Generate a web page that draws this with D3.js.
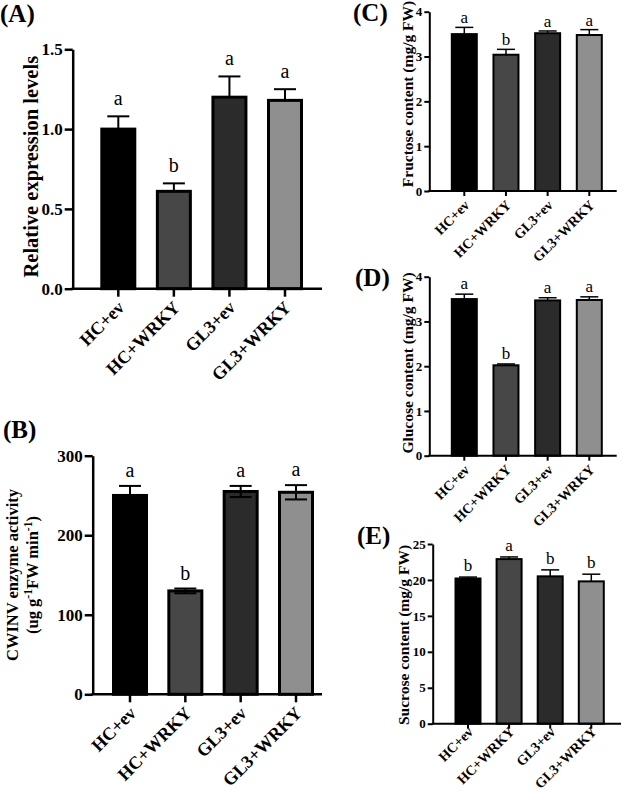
<!DOCTYPE html>
<html>
<head>
<meta charset="utf-8">
<script src="https://cdn.jsdelivr.net/npm/d3@7"></script>
<style>
  body { margin: 0; background: #fff; }
  svg { display: block; }
  text { font-family: "Liberation Serif", "Times New Roman", serif; font-weight: bold; fill: #000; }
</style>
</head>
<body>
<div id="chart"></div>
<script>
let groups = ["HC+ev", "HC+WRKY", "GL3+ev", "GL3+WRKY"]
let barFills = ["#000000", "#474747", "#2b2b2b", "#8f8f8f"]

// (A) relative expression
let exprMean = [1.0, 0.61, 1.20, 1.18]
let exprErr = [0.08, 0.05, 0.13, 0.07]
let exprLetters = ["a", "b", "a", "a"]
let exprTicks = [0, 0.5, 1.0, 1.5]

// (B) CWINV activity
let cwinvMean = [250, 130, 255, 254]
let cwinvErr = [12, 3, 7, 9]
let cwinvLetters = ["a", "b", "a", "a"]
let cwinvTicks = [0, 100, 200, 300]

// (C) fructose
let fruMean = [3.50, 3.04, 3.52, 3.48]
let fruErr = [0.15, 0.12, 0.05, 0.12]
let fruLetters = ["a", "b", "a", "a"]

// (D) glucose
let gluMean = [3.50, 2.02, 3.47, 3.48]
let gluErr = [0.11, 0.03, 0.06, 0.07]
let gluLetters = ["a", "b", "a", "a"]
let sugarTicks = [0, 1, 2, 3, 4]

// (E) sucrose
let sucMean = [20.2, 22.9, 20.5, 19.8]
let sucErr = [0.2, 0.3, 0.9, 1.0]
let sucLetters = ["b", "a", "b", "b"]
let sucTicks = [0, 5, 10, 15, 20, 25]

let svg = d3.select('#chart')
  .append('svg')
  .attr('width', 622)
  .attr('height', 792)

function barPanel(p) {
  let g = svg.append('g')

  let y = d3.scaleLinear()
    .domain([0, p.max])
    .range([p.bottom, p.top])

  let x = d3.scalePoint()
    .domain(groups)
    .range([p.c0, p.c1])

  let rows = groups.map((name, i) => ({
    name: name, mean: p.mean[i], err: p.err[i], letter: p.letters[i], fill: barFills[i]
  }))

  // bars
  g.selectAll('rect.bar')
    .data(rows)
    .join('rect')
    .attr('class', 'bar')
    .attr('x', d => x(d.name) - p.barW / 2)
    .attr('width', p.barW)
    .attr('y', d => y(d.mean))
    .attr('height', d => y(0) - y(d.mean))
    .attr('fill', d => d.fill)
    .attr('stroke', '#000')
    .attr('stroke-width', p.stroke)

  // error bars
  let errs = g.selectAll('g.err')
    .data(rows)
    .join('g')
    .attr('class', 'err')
    .attr('stroke', '#000')
    .attr('stroke-width', p.errW)

  errs.append('line')
    .attr('x1', d => x(d.name))
    .attr('x2', d => x(d.name))
    .attr('y1', d => y(p.errDown ? d.mean - d.err : d.mean))
    .attr('y2', d => y(d.mean + d.err))
  errs.append('line')
    .attr('x1', d => x(d.name) - p.capW / 2)
    .attr('x2', d => x(d.name) + p.capW / 2)
    .attr('y1', d => y(d.mean + d.err))
    .attr('y2', d => y(d.mean + d.err))
  if (p.errDown) {
    errs.append('line')
      .attr('x1', d => x(d.name) - p.capW / 2)
      .attr('x2', d => x(d.name) + p.capW / 2)
      .attr('y1', d => y(d.mean - d.err))
      .attr('y2', d => y(d.mean - d.err))
  }

  // significance letters
  g.selectAll('text.sig')
    .data(rows)
    .join('text')
    .attr('class', 'sig')
    .attr('x', d => x(d.name))
    .attr('y', d => y(d.mean + d.err) - p.letterGap)
    .attr('text-anchor', 'middle')
    .style('font-weight', 'normal')
    .style('font-size', p.letterFont + 'px')
    .text(d => d.letter)

  // y axis
  let yAxis = g.append('g')
    .attr('transform', `translate(${p.left},0)`)
    .call(d3.axisLeft(y).tickValues(p.ticks).tickFormat(d3.format(p.fmt))
      .tickSize(p.tickLen).tickSizeOuter(0).tickPadding(2))
  yAxis.select('.domain').attr('stroke-width', p.axisW)
  yAxis.selectAll('.tick line').attr('stroke-width', p.axisW)
  yAxis.selectAll('.tick text')
    .style('font-size', p.tickFont + 'px')
    .style('font-family', '"Liberation Serif", serif')
    .style('font-weight', 'bold')

  // x axis: baseline from y axis to right end, ticks at bar centres
  g.append('line')
    .attr('x1', p.left - p.axisW / 2)
    .attr('x2', p.right)
    .attr('y1', p.bottom)
    .attr('y2', p.bottom)
    .attr('stroke', '#000')
    .attr('stroke-width', p.axisW)
  g.selectAll('line.xtick')
    .data(groups)
    .join('line')
    .attr('class', 'xtick')
    .attr('x1', d => x(d))
    .attr('x2', d => x(d))
    .attr('y1', p.bottom)
    .attr('y2', p.bottom + p.tickLen)
    .attr('stroke', '#000')
    .attr('stroke-width', p.axisW)
  g.selectAll('text.xlab')
    .data(groups)
    .join('text')
    .attr('class', 'xlab')
    .attr('text-anchor', 'end')
    .attr('transform', d => `translate(${x(d) + p.xlabDx},${p.bottom + p.tickLen + p.xlabDy}) rotate(-45)`)
    .style('font-size', p.xFont + 'px')
    .text(d => d)

  // y title (one or more lines, pieces may be superscript)
  p.title.forEach((line, li) => {
    let t = g.append('text')
      .attr('transform', `translate(${p.titleX[li]},${p.titleY}) rotate(-90)`)
      .attr('text-anchor', 'middle')
      .style('font-size', p.titleFont + 'px')
    line.forEach(part => {
      let s = t.append('tspan').text(part.t)
      if (part.sup) s.attr('baseline-shift', 'super').style('font-size', (p.titleFont * 0.7) + 'px')
    })
  })

  // panel label
  svg.append('text')
    .attr('x', p.lx)
    .attr('y', p.ly)
    .style('font-size', '25px')
    .text(p.label)
}

barPanel({
  label: '(A)', lx: 0, ly: 22,
  left: 72.7, top: 49.3, bottom: 288.7, right: 322, c0: 118.3, c1: 285,
  max: 1.5, ticks: exprTicks, fmt: '.1f',
  mean: exprMean, err: exprErr, letters: exprLetters, errDown: false,
  barW: 33, capW: 22, stroke: 3, errW: 2, axisW: 2.5, tickLen: 8,
  tickFont: 17, xFont: 18, xlabDx: 7, xlabDy: 12, letterFont: 20, letterGap: 11,
  title: [[{t: 'Relative expression levels'}]], titleX: [38], titleY: 166.7, titleFont: 20.5
})

barPanel({
  label: '(B)', lx: 3, ly: 438,
  left: 92.7, top: 455.7, bottom: 694.3, right: 322, c0: 130, c1: 296,
  max: 300, ticks: cwinvTicks, fmt: 'd',
  mean: cwinvMean, err: cwinvErr, letters: cwinvLetters, errDown: true,
  barW: 33, capW: 22, stroke: 3, errW: 2, axisW: 2.5, tickLen: 8,
  tickFont: 17, xFont: 18, xlabDx: 7, xlabDy: 12, letterFont: 20, letterGap: 9,
  title: [[{t: 'CWINV enzyme activity'}],
          [{t: '(ug g'}, {t: '-1', sup: true}, {t: 'FW min'}, {t: '-1', sup: true}, {t: ')'}]],
  titleX: [18, 38], titleY: 575, titleFont: 16.5
})

barPanel({
  label: '(C)', lx: 353, ly: 21,
  left: 429.3, top: 11.7, bottom: 191, right: 616.7, c0: 464.3, c1: 589.3,
  max: 4, ticks: sugarTicks, fmt: 'd',
  mean: fruMean, err: fruErr, letters: fruLetters, errDown: false,
  barW: 25, capW: 18, stroke: 2, errW: 1.5, axisW: 2, tickLen: 5,
  tickFont: 13, xFont: 14, xlabDx: 6, xlabDy: 10, letterFont: 17, letterGap: 4,
  title: [[{t: 'Fructose content (mg/g FW)'}]], titleX: [413], titleY: 94, titleFont: 15.5
})

barPanel({
  label: '(D)', lx: 355, ly: 286,
  left: 429.3, top: 276.7, bottom: 455.7, right: 616.7, c0: 464.3, c1: 589.3,
  max: 4, ticks: sugarTicks, fmt: 'd',
  mean: gluMean, err: gluErr, letters: gluLetters, errDown: false,
  barW: 25, capW: 18, stroke: 2, errW: 1.5, axisW: 2, tickLen: 5,
  tickFont: 13, xFont: 14, xlabDx: 6, xlabDy: 10, letterFont: 17, letterGap: 5,
  title: [[{t: 'Glucose content (mg/g FW)'}]], titleX: [413], titleY: 363, titleFont: 15.5
})

barPanel({
  label: '(E)', lx: 357, ly: 544,
  left: 432.7, top: 544, bottom: 723.7, right: 621, c0: 468, c1: 591.3,
  max: 25, ticks: sucTicks, fmt: 'd',
  mean: sucMean, err: sucErr, letters: sucLetters, errDown: false,
  barW: 25, capW: 18, stroke: 2, errW: 1.5, axisW: 2, tickLen: 5,
  tickFont: 13, xFont: 14, xlabDx: 6, xlabDy: 4, letterFont: 17, letterGap: 6,
  title: [[{t: 'Sucrose content (mg/g FW)'}]], titleX: [409], titleY: 635, titleFont: 15.5
})
</script>
</body>
</html>
